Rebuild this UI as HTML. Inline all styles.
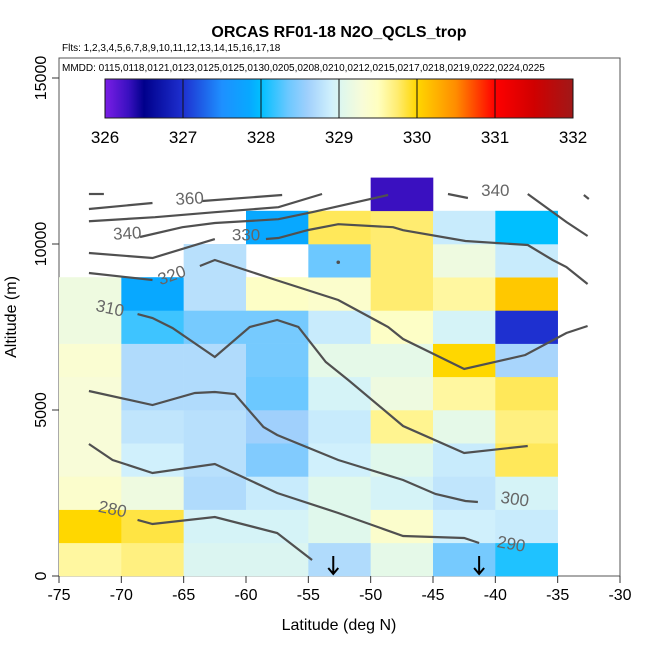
<!DOCTYPE html>
<html><head><meta charset="utf-8"><style>
body{margin:0;background:#fff;}
svg text{font-family:"Liberation Sans",sans-serif;}
</style></head><body>
<svg id="chart" width="650" height="650" viewBox="0 0 650 650" xmlns="http://www.w3.org/2000/svg">
<defs>
<linearGradient id="cbar" x1="0" x2="1" y1="0" y2="0"></linearGradient>
</defs>
<text x="339" y="37" text-anchor="middle" font-size="16" font-weight="bold">ORCAS RF01-18 N2O_QCLS_trop</text>
<text x="62" y="51" font-size="10">Flts: 1,2,3,4,5,6,7,8,9,10,11,12,13,14,15,16,17,18</text>
<rect x="59" y="58" width="561" height="518" fill="none" stroke="#555" stroke-width="1"/>
<text x="62" y="71" font-size="10">MMDD: 0115,0118,0121,0123,0125,0125,0130,0205,0208,0210,0212,0215,0217,0218,0219,0222,0224,0225</text>
<g id="cells"></g>
<g id="contours"></g>
<g id="axes"></g>
<g id="colorbar"></g>
<text x="339" y="630" text-anchor="middle" font-size="16">Latitude (deg N)</text>
<text transform="translate(16,317) rotate(-90)" text-anchor="middle" font-size="16">Altitude (m)</text>
</svg>
<script>
const latEdges = [-75,-70,-65,-60,-55,-50,-45,-40,-35];
const altEdges = [0,1000,2000,3000,4000,5000,6000,7000,8000,9000,10000,11000,12000];
// N2O values per row (bottom to top), per latitude column; null = no data
const row0  = [329.6,329.7,329.0,329.0,328.7,329.1,328.4,328.1];
const row1  = [330.0,329.85,328.95,328.95,329.05,329.4,328.9,328.85];
const row2  = [329.4,329.2,328.7,328.85,329.05,328.95,328.8,328.95];
const row3  = [329.3,328.9,328.75,328.45,328.9,329.05,328.85,329.8];
const row4  = [329.3,328.8,328.75,328.6,328.85,329.65,329.1,329.7];
const row5  = [329.3,328.7,328.7,328.35,328.95,329.2,329.6,329.8];
const row6  = [329.35,328.7,328.7,328.4,329.1,329.1,330.0,328.65];
const row7  = [329.2,328.2,328.4,328.4,328.85,329.45,328.95,327.0];
const row8  = [329.2,327.85,328.75,329.45,329.4,329.75,329.6,330.1];
const row9  = [null,null,328.75,null,328.35,329.75,329.2,328.85];
const row10 = [null,null,null,327.85,329.8,329.75,328.85,328.0];
const row11 = [null,null,null,null,null,326.3,null,null];
const rows = [row0,row1,row2,row3,row4,row5,row6,row7,row8,row9,row10,row11];
const cbTicks = [326,327,328,329,330,331,332];
const xTicks = [-75,-70,-65,-60,-55,-50,-45,-40,-35,-30];
const yTicks = [0,5000,10000,15000];
const arrowLats = [-53,-41.3];
// theta contours: [lat, alt] pairs
const cTop1 = [[-72.6,11506],[-71.4,11506]];
const cTop2 = [[-72.6,11054],[-67.5,11235]];
const cTop2b = [[-63.5,11295],[-57.1,11476]];
const cB = [[-72.6,10686],[-67.3,10807],[-62.5,10958],[-57.4,11108],[-53.9,11506]];
const cC = [[-68.5,10211],[-65.1,10506],[-62.5,10632],[-57.4,10747],[-54.7,10958],[-48.6,11476]];
const cD1 = [[-72.6,9729],[-67.5,9578],[-62.5,10150]];
const cD2 = [[-58.4,10150],[-57.4,10180],[-55.0,10422],[-52.6,10596],[-48.2,10506],[-47.4,10415],[-42.4,10090],[-37.4,9970],[-35.4,9518],[-34.3,9307],[-32.6,8795]];
const cE1 = [[-72.6,9126],[-67.5,8916]];
const cE2 = [[-63.7,9337],[-62.5,9518],[-57.6,8916],[-52.6,8313],[-48.6,7500],[-47.4,7138],[-42.5,6235],[-37.6,6656],[-34.3,7319],[-32.6,7530]];
const cF = [[-68.7,7891],[-67.5,7771],[-65.9,7470],[-62.5,6596],[-59.7,7500],[-57.5,7711],[-55.8,7500],[-53.6,6446],[-51.8,5904],[-47.4,4518],[-42.5,3705],[-37.4,3916]];
const cG = [[-72.6,5572],[-67.5,5150],[-64.1,5512],[-62.5,5542],[-60.9,5482],[-58.6,4488],[-57.5,4247],[-52.6,3494],[-47.4,2892],[-44.8,2470],[-42.4,2259],[-41.4,2229]];
const cH = [[-72.6,3976],[-70.7,3494],[-67.5,3102],[-62.5,3373],[-57.5,2500],[-52.6,1898],[-47.4,1205],[-42.5,1145],[-41.3,994]];
const cI = [[-68.7,1687],[-67.5,1566],[-62.5,1777],[-57.5,1295],[-54.7,482]];
const cR1 = [[-43.8,11506],[-42.2,11386]];
const cR2 = [[-37.4,11506],[-34.3,10662],[-32.6,10241]];
const cR3 = [[-32.9,11476],[-32.5,11356]];
const contours = [cTop1,cTop2,cTop2b,cB,cC,cD1,cD2,cE1,cE2,cF,cG,cH,cI,cR1,cR2,cR3];
const cLabels = [["360",-64.5,11200,-3],["340",-69.5,10150,-3],["330",-60.0,10100,0],["320",-65.8,8900,-20],["310",-71.0,7900,12],["300",-38.5,2150,8],["290",-38.8,800,10],["280",-70.8,1850,12],["340",-40.0,11450,0]];

const NS="http://www.w3.org/2000/svg";
const X0=59,X1=620,Y0=576,PXY=0.0332;
function xs(l){return X0+(l+75)*(X1-X0)/45;}
function ys(a){return Y0-a*PXY;}
const stops=[[326,'#7a1ee6'],[326.3,'#3a10c0'],[326.5,'#00008b'],[327,'#1e30d0'],[327.5,'#1e90ff'],[327.85,'#08a8ff'],[328,'#00bfff'],[328.35,'#6cc8ff'],[328.6,'#a0d0fc'],[328.75,'#b8e0fc'],[328.9,'#d0f0fc'],[329.05,'#e0f8ec'],[329.3,'#f8fcd8'],[329.5,'#ffffc0'],[329.75,'#ffec70'],[330,'#ffd700'],[330.5,'#ff8c00'],[331,'#ff0000'],[331.5,'#d00000'],[332,'#a01818']];
function hx(c){return [1,3,5].map(i=>parseInt(c.substr(i,2),16));}
function cmap(v){
  for(let i=0;i<stops.length-1;i++){
    const a=stops[i],b=stops[i+1];
    if(v<=b[0]){const t=Math.max(0,(v-a[0])/(b[0]-a[0]));const ca=hx(a[1]),cb=hx(b[1]);
      return 'rgb('+ca.map((x,k)=>Math.round(x+(cb[k]-x)*t)).join(',')+')';}
  }
  return stops[stops.length-1][1];
}
function mk(tag,attrs,parent){const e=document.createElementNS(NS,tag);for(const k in attrs)e.setAttribute(k,attrs[k]);parent.appendChild(e);return e;}
const cells=document.getElementById('cells');
rows.forEach((r,ri)=>r.forEach((v,ci)=>{
  if(v===null)return;
  const e=mk('rect',{x:xs(latEdges[ci]),y:ys(altEdges[ri+1]),width:xs(latEdges[ci+1])-xs(latEdges[ci])+0.3,height:ys(altEdges[ri])-ys(altEdges[ri+1])+0.3,fill:cmap(v)},cells);
  
  
}));
const cg=document.getElementById('contours');
contours.forEach(c=>{
  const e=mk('polyline',{points:c.map(p=>xs(p[0])+','+ys(p[1])).join(' '),fill:'none',stroke:'#505050','stroke-width':2.2},cg);
  
  
});
cLabels.forEach(l=>{
  const x=xs(l[1]),y=ys(l[2]);
  const e=mk('text',{x:x,y:y,'font-size':17,fill:'#666','text-anchor':'middle',transform:'rotate('+l[3]+' '+x+' '+y+')'},cg);
  e.textContent=l[0];
  
  
});
const dot=mk('circle',{cx:xs(-52.6),cy:ys(9450),r:1.8,fill:'#505050'},cg);


const ax=document.getElementById('axes');
xTicks.forEach(t=>{
  const x=xs(t);
  const l=mk('line',{x1:x,x2:x,y1:Y0,y2:Y0+7,stroke:'#333'},ax);
  
  
  const e=mk('text',{x:x,y:Y0+24,'font-size':16,'text-anchor':'middle'},ax);
  e.textContent=t;
  
  
});
yTicks.forEach(t=>{
  const y=ys(t);
  const l=mk('line',{x1:X0-7,x2:X0,y1:y,y2:y,stroke:'#333'},ax);
  
  
  const e=mk('text',{x:46,y:y,'font-size':16,'text-anchor':'middle',transform:'rotate(-90 46 '+y+')'},ax);
  e.textContent=t;
  
  
});
arrowLats.forEach(a=>{
  const x=xs(a);
  const e=mk('path',{d:'M'+x+' '+(Y0-20)+' V'+(Y0-2)+' M'+(x-5)+' '+(Y0-8)+' L'+x+' '+(Y0-2)+' L'+(x+5)+' '+(Y0-8),stroke:'#000','stroke-width':2,fill:'none'},ax);
  
  
});
// colorbar
const grad=document.getElementById('cbar');
stops.forEach(s=>mk('stop',{offset:((s[0]-326)/6*100)+'%','stop-color':s[1]},grad));
const cb=document.getElementById('colorbar');
const CBX0=105,CBX1=573,CBY=79,CBH=39;
const cbr=mk('rect',{x:CBX0,y:CBY,width:CBX1-CBX0,height:CBH,fill:'url(#cbar)',stroke:'#222'},cb);


cbTicks.forEach(t=>{
  const x=CBX0+(t-326)/6*(CBX1-CBX0);
  const l=mk('line',{x1:x,x2:x,y1:CBY,y2:CBY+CBH,stroke:'#111'},cb);
  
  
  const e=mk('text',{x:x,y:CBY+CBH+25,'font-size':17,'text-anchor':'middle'},cb);
  e.textContent=t;
  
  
});
</script>
</body></html>
